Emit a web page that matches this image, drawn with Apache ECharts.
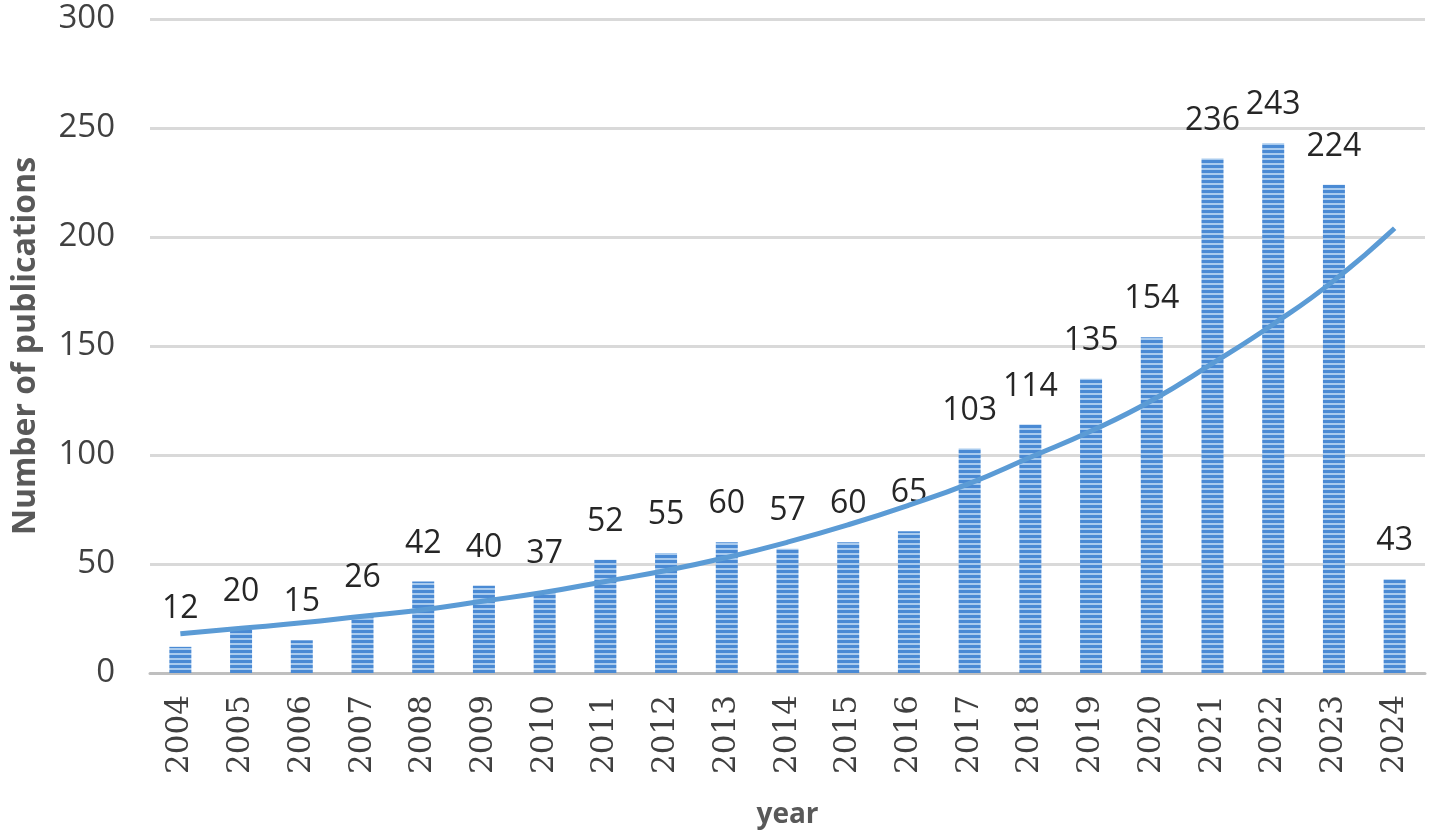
<!DOCTYPE html>
<html>
<head>
<meta charset="utf-8">
<script src="https://cdn.jsdelivr.net/npm/echarts@6/dist/echarts.min.js"></script>
<style>
html, body { margin: 0; padding: 0; background: #fff; }
#main { width: 1429px; height: 838px; }
</style>
</head>
<body>
<div id="main"></div>
<script>
// publications per year
var years = ['2004','2005','2006','2007','2008','2009','2010','2011','2012','2013','2014',
	'2015','2016','2017','2018','2019','2020','2021','2022','2023','2024'];
var counts = [12, 20, 15, 26, 42, 40, 37, 52, 55, 60, 57, 60, 65, 103, 114, 135, 154, 236, 243, 224, 43];
// exponential trend line
var trend = [18, 20.5, 23, 26, 29, 33, 37, 42, 47, 53, 60, 68, 77, 87, 99, 111, 125, 142, 160, 180, 204];
var yTicks = [0, 50, 100, 150, 200, 250, 300];

// striped fill for bars
function stripes() {
	var c = document.createElement('canvas');
	c.width = 8;
	c.height = 5;
	var ctx = c.getContext('2d');
	ctx.fillStyle = '#a9cbee';
	ctx.fillRect(0, 0, 8, 5);
	ctx.fillStyle = '#4a8ad4';
	ctx.fillRect(0, 0, 8, 3);
	return c;
}

var myChart = echarts.init(document.getElementById('main'));
var option = {
	animation : false,
	textStyle : {
		fontFamily : 'Open Sans'
	},
	grid : {
		left : 150,
		right : 4,
		top : 19,
		bottom : 165,
		containLabel : false,
		outerBoundsMode : 'none'
	},
	xAxis : {
		type : 'category',
		data : years,
		name : 'year',
		nameLocation : 'middle',
		nameGap : 128,
		nameTextStyle : {
			fontFamily : 'Open Sans',
			fontWeight : 'bold',
			fontSize : 28,
			color : '#595959'
		},
		axisLine : {
			lineStyle : { color : '#bfbfbf', width : 3 }
		},
		axisTick : { show : false },
		axisLabel : {
			rotate : 90,
			margin : 22,
			interval : 0,
			fontFamily : 'DejaVu Serif',
			fontSize : 31,
			color : '#404040'
		}
	},
	yAxis : {
		type : 'value',
		min : yTicks[0],
		max : yTicks[yTicks.length - 1],
		interval : 50,
		name : 'Number of publications',
		nameLocation : 'middle',
		nameRotate : 90,
		nameGap : 108,
		nameTextStyle : {
			fontFamily : 'Open Sans',
			fontWeight : 'bold',
			fontSize : 32,
			color : '#595959'
		},
		axisLine : { show : false },
		axisTick : { show : false },
		axisLabel : {
			margin : 35,
			fontFamily : 'Open Sans',
			fontSize : 33,
			color : '#404040'
		},
		splitLine : {
			lineStyle : { color : '#d9d9d9', width : 3 }
		}
	},
	series : [ {
		name : 'Publications',
		type : 'bar',
		data : counts,
		barWidth : 22,
		itemStyle : {
			color : { image : stripes(), repeat : 'repeat' }
		},
		label : {
			show : true,
			position : 'top',
			distance : 22,
			fontFamily : 'Open Sans',
			fontSize : 32,
			color : '#262626'
		}
	}, {
		name : 'Trend',
		type : 'line',
		data : trend,
		smooth : true,
		showSymbol : false,
		z : 5,
		lineStyle : {
			color : '#5b9bd5',
			width : 5
		}
	} ]
};
myChart.setOption(option, true);
</script>
</body>
</html>
